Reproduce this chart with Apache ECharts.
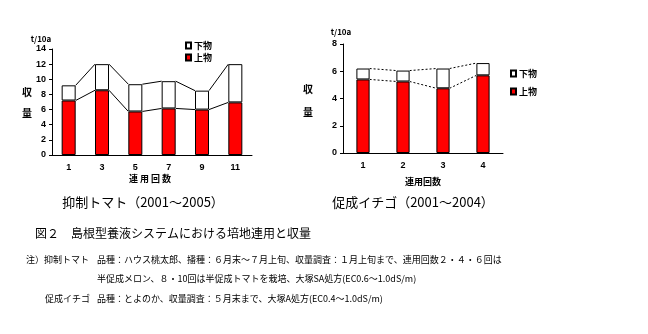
<!DOCTYPE html>
<html><head><meta charset="utf-8">
<script src="https://cdn.jsdelivr.net/npm/echarts@6/dist/echarts.min.js"></script>
<style>html,body{margin:0;padding:0;background:#fff}#c{width:648px;height:334px}</style>
</head><body><div id="c"></div>
<script>
// ---- data ----
const tomatoCats = ['1','3','5','7','9','11'];
const tomatoUpper = [7.2, 8.55, 5.75, 6.15, 6.0, 6.95];   // 上物
const tomatoLower = [2.0, 3.45, 3.6, 3.6, 2.5, 5.05];     // 下物
const berryCats = ['1','2','3','4'];
const berryUpper = [5.4, 5.25, 4.75, 5.7];
const berryLower = [0.8, 0.8, 1.45, 0.9];
const tomatoTicks = [0,2,4,6,8,10,12,14];
const berryTicks = [0,2,4,6,8];

const JP = '"Noto Sans CJK JP", sans-serif';
const BOLD = '"Liberation Sans", Arial, sans-serif';

const sum = (a,b)=>a.map((v,i)=>v+b[i]);
const tomatoTotal = sum(tomatoUpper, tomatoLower);
const berryTotal = sum(berryUpper, berryLower);

function connector(xi, yi, up, tot, ratio, dashed){
  return {
    type:'custom', xAxisIndex:xi, yAxisIndex:yi, silent:true, z:5,
    data: up.map((v,i)=>[i, v]),
    renderItem:(params, api)=>{
      const i = params.dataIndex;
      if (i >= up.length-1) return null;
      const bw = api.size([1,0])[0]*ratio/2;
      const children = [];
      [up, tot].forEach(arr=>{
        const p0 = api.coord([i, arr[i]]);
        const p1 = api.coord([i+1, arr[i+1]]);
        children.push({type:'line', shape:{x1:p0[0]+bw, y1:p0[1], x2:p1[0]-bw, y2:p1[1]},
          style:{stroke:'#000', lineWidth:1, lineDash: dashed?[2,2]:null}});
      });
      return {type:'group', children};
    }
  };
}

const axisLabel = {color:'#000', fontFamily:BOLD, fontWeight:'bold', fontSize:9};
function yAx(gi, max, ticks){
  return {type:'value', gridIndex:gi, min:0, max:max, interval:2,
    axisLine:{show:true, lineStyle:{color:'#000'}},
    axisTick:{show:true, length:3, lineStyle:{color:'#000'}},
    splitLine:{show:false},
    axisLabel:Object.assign({margin:6, formatter:v=>ticks.includes(v)?String(v):''}, axisLabel)};
}
function xAx(gi, cats){
  return {type:'category', gridIndex:gi, data:cats,
    axisLine:{lineStyle:{color:'#000'}}, axisTick:{show:false},
    axisLabel:Object.assign({margin:8}, axisLabel)};
}
const whiteStyle = {color:'#fff', borderColor:'#000', borderWidth:1};
const redStyle = {color:'#ff0000', borderColor:'#000', borderWidth:1};

const bt = (x,y,t,size)=>({type:'text', x:x, y:y, style:{text:t, font:`bold ${size}px ${JP}`, fill:'#000', textAlign:'center', textVerticalAlign:'middle'}});

const chart = echarts.init(document.getElementById('c'), null, {renderer:'canvas'});
chart.setOption({
  animation:false,
  backgroundColor:'#fff',
  grid:[
    {left:52, top:49, width:200, height:106},
    {left:343, top:44, width:160, height:109}
  ],
  xAxis:[xAx(0, tomatoCats), xAx(1, berryCats)],
  yAxis:[yAx(0, 14, tomatoTicks), yAx(1, 8, berryTicks)],
  legend:[
    {left:180, top:36, orient:'vertical', itemGap:3, itemWidth:5, itemHeight:6, icon:'rect',
     data:['下物','上物'], textStyle:{fontFamily:JP, fontWeight:'bold', fontSize:9, color:'#000', padding:[0,0,0,-2]}},
    {left:505, top:64, orient:'vertical', itemGap:9, itemWidth:5, itemHeight:6, icon:'rect',
     data:['下物','上物'], textStyle:{fontFamily:JP, fontWeight:'bold', fontSize:9, color:'#000', padding:[0,0,0,-2]}}
  ],
  series:[
    {name:'上物', type:'bar', xAxisIndex:0, yAxisIndex:0, stack:'t', barWidth:'42%', data:tomatoUpper, itemStyle:redStyle},
    {name:'下物', type:'bar', xAxisIndex:0, yAxisIndex:0, stack:'t', barWidth:'42%', data:tomatoLower, itemStyle:whiteStyle},
    {name:'上物', type:'bar', xAxisIndex:1, yAxisIndex:1, stack:'b', barWidth:'33%', data:berryUpper, itemStyle:redStyle},
    {name:'下物', type:'bar', xAxisIndex:1, yAxisIndex:1, stack:'b', barWidth:'33%', data:berryLower, itemStyle:whiteStyle},
    connector(0,0,tomatoUpper,tomatoTotal,0.42,false),
    connector(1,1,berryUpper,berryTotal,0.33,true)
  ],
  graphic:[
    bt(41,39,'t/10a',8), bt(341,32,'t/10a',8),
    bt(27,92,'収',10), bt(27,113,'量',10),
    bt(308,89,'収',10), bt(308,112,'量',10),
    {type:'text', x:150, y:179, style:{text:'連 用 回 数', font:`bold 9px ${JP}`, fill:'#000', textAlign:'center', textVerticalAlign:'middle'}},
    bt(423,182,'連用回数',9),
    {type:'text', x:143, y:202, style:{text:'抑制トマト（2001～2005）', font:`13px ${JP}`, fill:'#000', textAlign:'center', textVerticalAlign:'middle'}},
    {type:'text', x:413, y:202, style:{text:'促成イチゴ（2001～2004）', font:`13px ${JP}`, fill:'#000', textAlign:'center', textVerticalAlign:'middle'}},
    {type:'text', x:35, y:233, style:{text:'図２　島根型養液システムにおける培地連用と収量', font:`12px ${JP}`, fill:'#000', textVerticalAlign:'middle'}},
    {type:'text', x:26, y:260, style:{text:'注）抑制トマト', font:`9px ${JP}`, fill:'#000', textVerticalAlign:'middle'}},
    {type:'text', x:97, y:260, style:{text:'品種：ハウス桃太郎、播種：６月末～７月上旬、収量調査：１月上旬まで、連用回数２・４・６回は', font:`9px ${JP}`, fill:'#000', textVerticalAlign:'middle'}},
    {type:'text', x:97, y:279, style:{text:'半促成メロン、８・10回は半促成トマトを栽培、大塚SA処方(EC0.6～1.0dS/m)', font:`9px ${JP}`, fill:'#000', textVerticalAlign:'middle'}},
    {type:'text', x:45, y:299, style:{text:'促成イチゴ', font:`9px ${JP}`, fill:'#000', textVerticalAlign:'middle'}},
    {type:'text', x:97, y:299, style:{text:'品種：とよのか、収量調査：５月末まで、大塚A処方(EC0.4～1.0dS/m)', font:`9px ${JP}`, fill:'#000', textVerticalAlign:'middle'}}
  ]
});
</script></body></html>
